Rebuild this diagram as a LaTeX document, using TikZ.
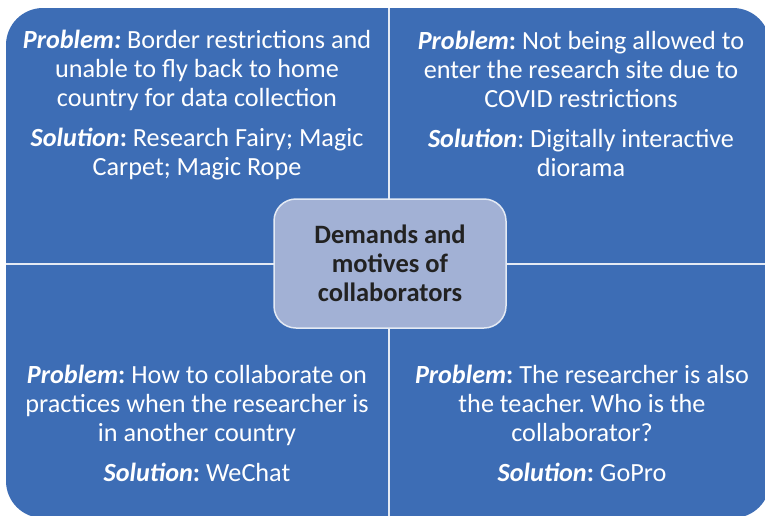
\documentclass[tikz,border=0pt]{standalone}
\usepackage{fontspec}
\setmainfont{Carlito}
\frenchspacing
\definecolor{qblue}{HTML}{3D6DB5}
\definecolor{cbox}{HTML}{A2B1D5}
\definecolor{ctext}{HTML}{222222}
\definecolor{sepline}{HTML}{E4EAF4}
\begin{document}
\begin{tikzpicture}[x=1pt,y=-1pt,
  qtext/.style={text=white,align=center,font=\fontsize{26.2}{29}\selectfont,inner sep=0pt},
  ctr/.style={text=ctext,align=center,font=\bfseries\fontsize{26.5}{29}\selectfont,inner sep=0pt}]
\useasboundingbox (0,0) rectangle (765,515);
\clip (0,0) rectangle (765,515);
\fill[white] (0,0) rectangle (765,515);
\fill[qblue,rounded corners=37pt] (6,8) rectangle (770,518);
\draw[sepline,line width=2pt] (389,8) -- (389,518);
\draw[sepline,line width=2pt] (6,264) -- (770,264);
\node[draw=sepline,line width=1.5pt,fill=cbox,rounded corners=22pt,minimum width=232pt,minimum height=129pt,inner sep=0pt] (center) at (390,263.5) {};
\node[ctr] (ctrtext) at (390,263) {Demands and\\motives of\\collaborators};
\node[qtext] (tl) at (197,105) {\textbf{\textit{Problem:}} Border restrictions and\\unable to fly back to home\\country for data collection\\[11pt]\textbf{\textit{Solution}:} Research Fairy; Magic\\Carpet; Magic Rope};
\node[qtext] (tr) at (581,104) {\textbf{\textit{Problem}:} Not being allowed to\\enter the research site due to\\COVID restrictions\\[11pt]\textbf{\textit{Solution}}: Digitally interactive\\diorama};
\node[qtext] (bl) at (197,423) {\textbf{\textit{Problem}:} How to collaborate on\\practices when the researcher is\\in another country\\[11pt]\textbf{\textit{Solution}:} WeChat};
\node[qtext] (br) at (582,423) {\textbf{\textit{Problem}:} The researcher is also\\the teacher. Who is the\\collaborator?\\[11pt]\textbf{\textit{Solution}:} GoPro};
\end{tikzpicture}
\end{document}
